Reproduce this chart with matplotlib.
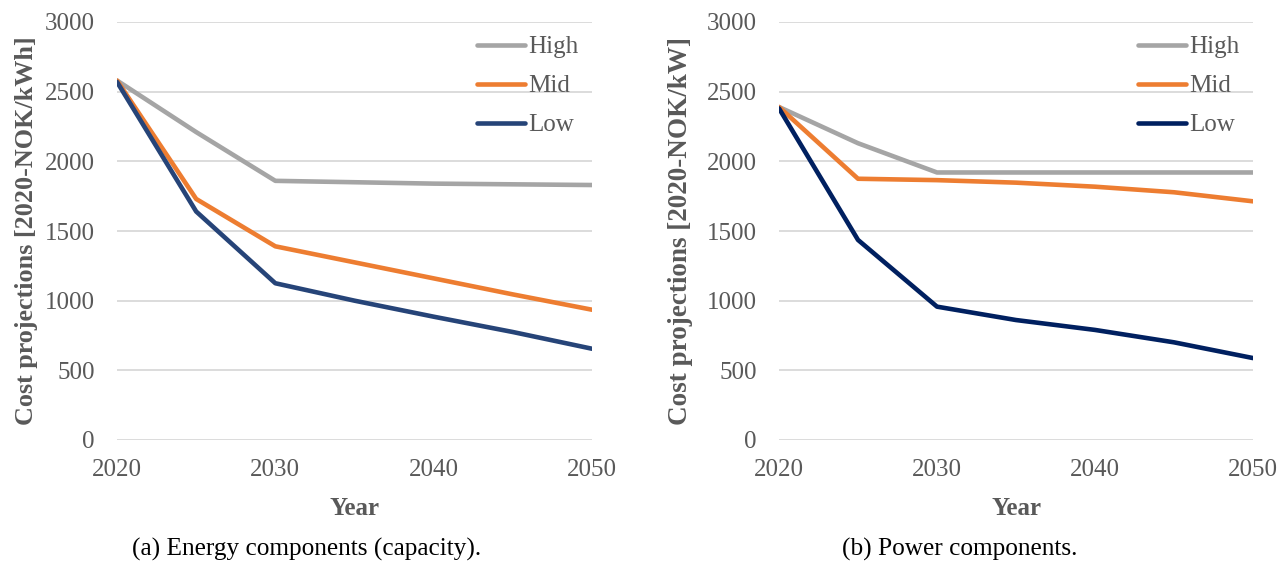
import matplotlib
matplotlib.use("Agg")
import matplotlib.pyplot as plt

years = [2020, 2025, 2030, 2035, 2040, 2045, 2050]
energy_high = [2580, 2210, 1860, 1850, 1840, 1835, 1830]
energy_mid = [2580, 1730, 1390, 1275, 1160, 1045, 935]
energy_low = [2570, 1640, 1125, 1000, 885, 775, 655]
power_high = [2390, 2130, 1920, 1920, 1920, 1920, 1920]
power_mid = [2390, 1875, 1865, 1847, 1818, 1778, 1713]
power_low = [2380, 1436, 957, 861, 790, 701, 588]
series_names = ["High", "Mid", "Low"]
xticks = [2020, 2030, 2040, 2050]
yticks = [0, 500, 1000, 1500, 2000, 2500, 3000]
ylabels = ["Cost projections [2020-NOK/kWh]", "Cost projections [2020-NOK/kW]"]
captions = ["(a) Energy components (capacity).", "(b) Power components."]

plt.rcParams['font.family'] = ['Liberation Serif', 'DejaVu Serif']
txt = '#595959'
fs = 18

fig = plt.figure(figsize=(12.88, 5.64), dpi=100)
axes = [fig.add_axes([117/1288, 124/564, 475/1288, 418/564]),
        fig.add_axes([779/1288, 124/564, 474/1288, 418/564])]

data = [(energy_high, energy_mid, energy_low, '#264478'),
        (power_high, power_mid, power_low, '#002060')]
caption_x = [307/1288, 960/1288]
ylabel_fs = [18.8, 19.5]
ylabel_pad = [5, 10]

for i, ax in enumerate(axes):
    h, m, l, lowc = data[i]
    ax.plot(years, h, color='#A5A5A5', lw=3.3, label=series_names[0], solid_capstyle='round')
    ax.plot(years, m, color='#ED7D31', lw=3.3, label=series_names[1], solid_capstyle='round')
    ax.plot(years, l, color=lowc, lw=3.3, label=series_names[2], solid_capstyle='round')
    ax.set_xlim(2020, 2050)
    ax.set_ylim(0, 3000)
    ax.set_xticks(xticks)
    ax.set_yticks(yticks)
    ax.grid(axis='y', color='#D9D9D9', lw=1.3)
    ax.set_axisbelow(True)
    for s in ax.spines.values():
        s.set_visible(False)
    ax.tick_params(axis='both', length=0, labelsize=fs, labelcolor=txt)
    ax.tick_params(axis='x', pad=14)
    ax.tick_params(axis='y', pad=16)
    ax.set_xlabel('Year', fontsize=fs, fontweight='bold', color=txt, labelpad=11)
    ax.set_ylabel(ylabels[i], fontsize=ylabel_fs[i], fontweight='bold', color=txt,
                  labelpad=ylabel_pad[i])
    leg = ax.legend(loc='upper right', bbox_to_anchor=(0.985, 0.982), frameon=False,
                    fontsize=fs, handlelength=1.92, handletextpad=0.12, labelspacing=0.66,
                    borderaxespad=0.0, borderpad=0.25)
    for t in leg.get_texts():
        t.set_color(txt)
    fig.text(caption_x[i], 1 - 549/564, captions[i], ha='center', va='center',
             fontsize=18.2, color='black')

fig.savefig('out.png', dpi=100)
